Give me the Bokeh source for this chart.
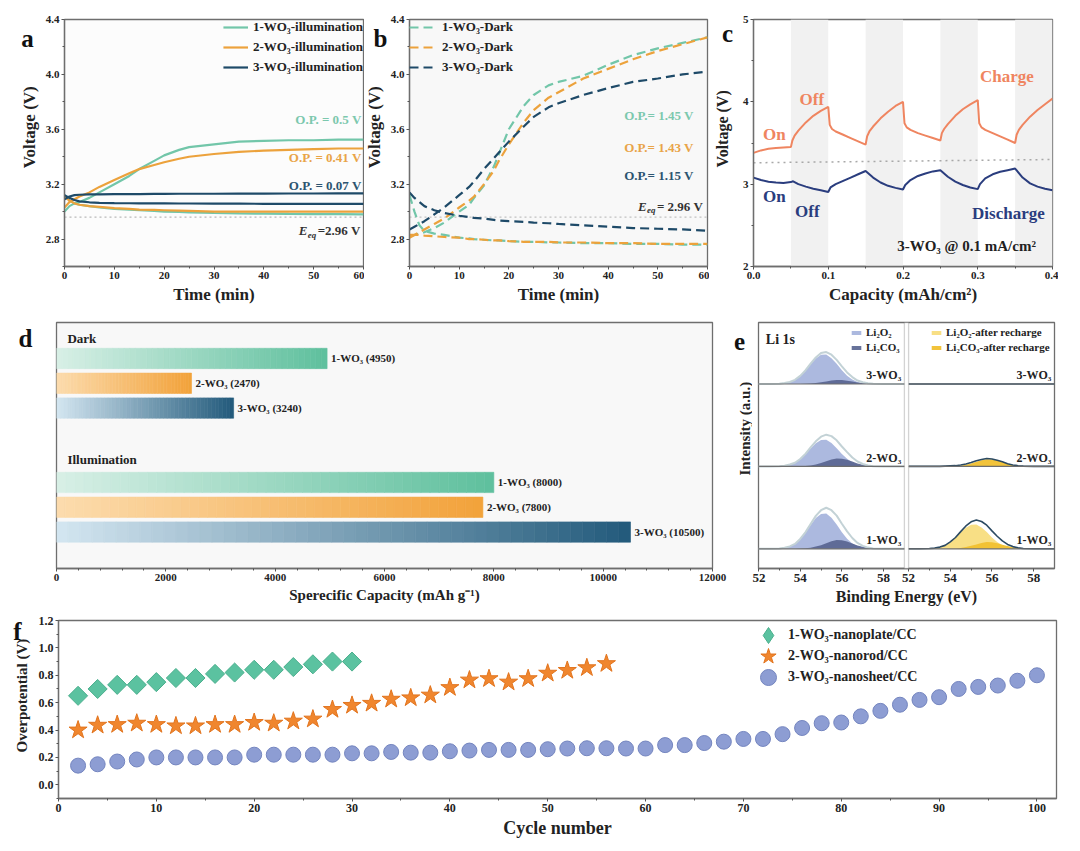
import numpy as np
from bokeh.plotting import figure
from bokeh.layouts import column, row
from bokeh.models import (Range1d, FixedTicker, Label, Legend, LegendItem,
                          BoxAnnotation, Span, PrintfTickFormatter, Spacer)
from bokeh.embed import file_html
from bokeh.resources import INLINE
from bokeh.core.properties import value

# ---------------- data ----------------
E_EQ = 2.96

# panel a : illumination
a_time = [0, 1, 2, 3, 5, 7, 10, 13, 15, 18, 20, 23, 25, 30, 35, 40, 45, 50, 55, 60]
a_names = ["1-WO₃-illumination", "2-WO₃-illumination", "3-WO₃-illumination"]
a_charge = [
    [3.00, 3.04, 3.06, 3.07, 3.10, 3.14, 3.20, 3.26, 3.31, 3.37, 3.41, 3.45, 3.47, 3.49, 3.51, 3.515, 3.52, 3.52, 3.525, 3.525],
    [3.03, 3.07, 3.09, 3.11, 3.14, 3.18, 3.23, 3.28, 3.31, 3.34, 3.36, 3.385, 3.40, 3.42, 3.435, 3.445, 3.45, 3.455, 3.46, 3.46],
    [3.09, 3.11, 3.12, 3.123, 3.125, 3.126, 3.127, 3.128, 3.128, 3.129, 3.129, 3.13, 3.13, 3.13, 3.131, 3.131, 3.132, 3.132, 3.133, 3.133],
]
a_discharge = [
    [3.12, 3.08, 3.06, 3.05, 3.04, 3.03, 3.02, 3.015, 3.01, 3.005, 3.0, 2.997, 2.995, 2.99, 2.987, 2.985, 2.983, 2.982, 2.981, 2.98],
    [3.11, 3.08, 3.06, 3.05, 3.04, 3.035, 3.025, 3.02, 3.015, 3.012, 3.01, 3.007, 3.005, 3.0, 3.0, 3.0, 3.0, 3.0, 3.0, 3.0],
    [3.12, 3.10, 3.085, 3.075, 3.068, 3.064, 3.062, 3.061, 3.06, 3.06, 3.06, 3.059, 3.059, 3.058, 3.058, 3.057, 3.057, 3.056, 3.056, 3.056],
]
a_op = ["O.P. = 0.5 V", "O.P. = 0.41 V", "O.P. = 0.07 V"]
a_op_y = [3.67, 3.395, 3.19]

# panel b : dark
b_time = [0, 1, 2, 3, 5, 7, 10, 12, 13, 15, 17, 18, 20, 23, 25, 28, 30, 35, 40, 45, 50, 55, 60]
b_names = ["1-WO₃-Dark", "2-WO₃-Dark", "3-WO₃-Dark"]
b_charge = [
    [2.82, 2.83, 2.84, 2.85, 2.88, 2.92, 3.00, 3.05, 3.10, 3.19, 3.33, 3.42, 3.60, 3.77, 3.85, 3.92, 3.945, 3.99, 4.07, 4.14, 4.19, 4.23, 4.27],
    [2.81, 2.83, 2.85, 2.87, 2.91, 2.95, 3.03, 3.08, 3.11, 3.20, 3.30, 3.37, 3.49, 3.65, 3.74, 3.83, 3.87, 3.97, 4.04, 4.11, 4.17, 4.22, 4.27],
    [2.87, 2.89, 2.91, 2.93, 2.98, 3.03, 3.12, 3.18, 3.22, 3.31, 3.39, 3.43, 3.51, 3.62, 3.69, 3.76, 3.79, 3.85, 3.90, 3.945, 3.97, 4.00, 4.02],
]
b_discharge = [
    [3.12, 3.00, 2.90, 2.86, 2.84, 2.83, 2.81, 2.805, 2.80, 2.795, 2.79, 2.79, 2.785, 2.78, 2.78, 2.775, 2.775, 2.77, 2.77, 2.765, 2.765, 2.76, 2.76],
    [2.83, 2.83, 2.83, 2.825, 2.82, 2.815, 2.81, 2.80, 2.80, 2.795, 2.79, 2.79, 2.785, 2.78, 2.78, 2.78, 2.775, 2.775, 2.77, 2.77, 2.765, 2.765, 2.765],
    [3.14, 3.10, 3.07, 3.04, 3.01, 2.99, 2.97, 2.96, 2.955, 2.95, 2.94, 2.935, 2.93, 2.925, 2.92, 2.915, 2.91, 2.90, 2.89, 2.88, 2.875, 2.87, 2.86],
]
b_op = ["O.P.= 1.45 V", "O.P.= 1.43 V", "O.P.= 1.15 V"]
b_op_y = [3.70, 3.47, 3.26]

# panel c : light on/off
c_off_start = [0.05, 0.15, 0.25, 0.35]
c_off_end = [0.10, 0.20, 0.30, 0.40]
c_charge_cap = [0, 0.01, 0.02, 0.03, 0.04, 0.05, 0.052, 0.055, 0.06, 0.07, 0.08, 0.09, 0.1, 0.102, 0.105, 0.11, 0.12, 0.13, 0.14, 0.15,
                0.152, 0.155, 0.16, 0.17, 0.18, 0.19, 0.2, 0.202, 0.205, 0.21, 0.22, 0.23, 0.24, 0.25,
                0.252, 0.255, 0.26, 0.27, 0.28, 0.29, 0.3, 0.302, 0.305, 0.31, 0.32, 0.33, 0.34, 0.35,
                0.352, 0.355, 0.36, 0.37, 0.38, 0.39, 0.4]
c_charge_v = [3.38, 3.41, 3.43, 3.44, 3.445, 3.45, 3.53, 3.59, 3.65, 3.75, 3.83, 3.89, 3.94, 3.72, 3.67, 3.64, 3.60, 3.56, 3.52, 3.48,
              3.58, 3.64, 3.70, 3.80, 3.88, 3.95, 4.00, 3.74, 3.69, 3.66, 3.62, 3.59, 3.56, 3.53,
              3.62, 3.67, 3.73, 3.83, 3.91, 3.97, 4.02, 3.74, 3.69, 3.66, 3.62, 3.58, 3.54, 3.50,
              3.60, 3.66, 3.72, 3.82, 3.90, 3.97, 4.04]
c_dis_cap = [0, 0.01, 0.02, 0.03, 0.04, 0.05, 0.053, 0.06, 0.07, 0.08, 0.09, 0.1, 0.103, 0.11, 0.12, 0.13, 0.14, 0.15,
             0.16, 0.17, 0.18, 0.19, 0.2, 0.203, 0.21, 0.22, 0.23, 0.24, 0.25, 0.26, 0.27, 0.28, 0.29, 0.3,
             0.303, 0.31, 0.32, 0.33, 0.34, 0.35, 0.36, 0.37, 0.38, 0.39, 0.4]
c_dis_v = [3.08, 3.05, 3.03, 3.02, 3.015, 3.025, 3.035, 3.0, 2.97, 2.945, 2.925, 2.905, 2.96, 3.0, 3.04, 3.08, 3.12, 3.16,
           3.08, 3.02, 2.98, 2.955, 2.935, 2.99, 3.05, 3.10, 3.13, 3.155, 3.17, 3.09, 3.03, 2.99, 2.96, 2.94,
           3.0, 3.07, 3.12, 3.15, 3.17, 3.19, 3.08, 3.01, 2.97, 2.945, 2.925]
c_ref_cap = [0.0, 0.4]
c_ref_v = [3.26, 3.30]

# panel d : specific capacity
d_labels_dark = ["1-WO₃ (4950)", "2-WO₃ (2470)", "3-WO₃ (3240)"]
d_dark = [4950, 2470, 3240]
d_labels_ill = ["1-WO₃ (8000)", "2-WO₃ (7800)", "3-WO₃ (10500)"]
d_ill = [8000, 7800, 10500]

# panel e : XPS Li 1s
be = [52.0, 52.5, 53.0, 53.25, 53.5, 53.75, 54.0, 54.25, 54.5, 54.75, 55.0, 55.25, 55.5, 55.75, 56.0, 56.25,
      56.5, 56.75, 57.0, 57.25, 57.5, 58.0, 58.5, 59.0]
e_samples = ["1-WO₃", "2-WO₃", "3-WO₃"]
e_li2o2 = [
    [0, 0, 0.01, 0.04, 0.10, 0.20, 0.39, 0.65, 0.97, 1.25, 1.42, 1.44, 1.26, 0.99, 0.67, 0.41, 0.22, 0.10, 0.04, 0.01, 0, 0, 0, 0],
    [0, 0, 0.01, 0.03, 0.08, 0.15, 0.29, 0.49, 0.73, 0.94, 1.07, 1.08, 0.95, 0.74, 0.50, 0.31, 0.16, 0.08, 0.03, 0.01, 0, 0, 0, 0],
    [0, 0, 0.01, 0.04, 0.08, 0.17, 0.33, 0.54, 0.81, 1.04, 1.19, 1.20, 1.05, 0.82, 0.56, 0.34, 0.18, 0.08, 0.04, 0.01, 0, 0, 0, 0],
]
e_li2co3 = [
    [0, 0, 0, 0, 0, 0, 0.01, 0.02, 0.04, 0.09, 0.15, 0.23, 0.31, 0.36, 0.35, 0.30, 0.22, 0.14, 0.08, 0.04, 0.01, 0, 0, 0],
    [0, 0, 0, 0, 0, 0, 0.01, 0.02, 0.04, 0.08, 0.14, 0.21, 0.28, 0.32, 0.31, 0.27, 0.20, 0.12, 0.07, 0.03, 0.01, 0, 0, 0],
    [0, 0, 0, 0, 0, 0, 0, 0.01, 0.02, 0.04, 0.07, 0.10, 0.14, 0.16, 0.16, 0.13, 0.10, 0.06, 0.03, 0.02, 0.01, 0, 0, 0],
]
e_li2o2_after = [
    [0, 0, 0.01, 0.03, 0.07, 0.14, 0.27, 0.45, 0.67, 0.86, 0.98, 0.99, 0.87, 0.68, 0.46, 0.28, 0.15, 0.07, 0.03, 0.01, 0, 0, 0, 0],
    [0, 0, 0, 0, 0, 0.01, 0.01, 0.02, 0.03, 0.03, 0.04, 0.04, 0.03, 0.03, 0.02, 0.01, 0.01, 0, 0, 0, 0, 0, 0, 0],
    [0] * 24,
]
e_li2co3_after = [
    [0, 0, 0, 0, 0, 0, 0.01, 0.01, 0.03, 0.07, 0.12, 0.18, 0.24, 0.28, 0.27, 0.23, 0.17, 0.11, 0.06, 0.03, 0.01, 0, 0, 0],
    [0, 0, 0, 0, 0, 0, 0.01, 0.01, 0.03, 0.07, 0.12, 0.19, 0.25, 0.29, 0.28, 0.24, 0.18, 0.11, 0.06, 0.03, 0.01, 0, 0, 0],
    [0] * 24,
]
e_offsets = [0.8, 4.15, 7.5]

# panel f : overpotential vs cycle
f_names = ["1-WO₃-nanoplate/CC", "2-WO₃-nanorod/CC", "3-WO₃-nanosheet/CC"]
f1_cycle = list(range(2, 31, 2))
f1_op = [0.65, 0.70, 0.73, 0.73, 0.75, 0.78, 0.78, 0.81, 0.82, 0.84, 0.84, 0.86, 0.88, 0.90, 0.90]
f2_cycle = list(range(2, 57, 2))
f2_op = [0.40, 0.435, 0.44, 0.45, 0.44, 0.43, 0.43, 0.44, 0.44, 0.455, 0.45, 0.465, 0.48, 0.55, 0.58, 0.595,
         0.625, 0.635, 0.655, 0.71, 0.765, 0.775, 0.75, 0.775, 0.815, 0.835, 0.855, 0.885]
f3_cycle = list(range(2, 101, 2))
f3_op = [0.14, 0.15, 0.17, 0.185, 0.20, 0.20, 0.20, 0.20, 0.20, 0.22, 0.22, 0.22, 0.22, 0.22, 0.23, 0.23, 0.24,
         0.235, 0.235, 0.245, 0.25, 0.255, 0.255, 0.255, 0.26, 0.265, 0.267, 0.267, 0.265, 0.265, 0.29, 0.29,
         0.305, 0.315, 0.335, 0.335, 0.37, 0.415, 0.45, 0.455, 0.50, 0.54, 0.585, 0.62, 0.64, 0.70, 0.715,
         0.725, 0.76, 0.80]

# ---------------- styling ----------------
SERIF = "Liberation Serif"
TEAL = "#72C6A9"
ORANGE = "#ECA23C"
NAVY = "#1E4A68"
LINE_COLORS = [TEAL, ORANGE, NAVY]
TEXT_COLORS = ["#7CC8AE", "#E9A448", "#2C5470"]
AXC = "#6E6E6E"


def make_fig(width, height, xr, yr, bl, br, bt, bb, bg="white"):
    p = figure(width=width, height=height, x_range=xr, y_range=yr,
               output_backend="svg", toolbar_location=None,
               min_border_left=bl, min_border_right=br, min_border_top=bt, min_border_bottom=bb,
               background_fill_color=bg, border_fill_color="white")
    p.grid.visible = False
    p.outline_line_color = AXC
    p.outline_line_width = 1.3
    for ax in p.axis:
        ax.axis_line_color = AXC
        ax.axis_line_width = 1.3
        ax.major_tick_line_color = "#555555"
        ax.minor_tick_line_color = "#555555"
        ax.major_tick_in = 0
        ax.major_tick_out = 3
        ax.minor_tick_in = 0
        ax.minor_tick_out = 2
        ax.major_label_text_font = SERIF
        ax.major_label_text_font_style = "bold"
        ax.major_label_text_font_size = "11px"
        ax.major_label_text_color = "#222222"
        ax.major_label_standoff = 2
        ax.axis_label_text_font = SERIF
        ax.axis_label_text_font_style = "bold"
        ax.axis_label_text_font_size = "17px"
        ax.axis_label_text_color = "#222222"
        ax.axis_label_standoff = 3
    return p


def strip(width, height):
    s = figure(width=width, height=height, x_range=Range1d(0, width), y_range=Range1d(height, 0),
               x_axis_type=None, y_axis_type=None, output_backend="svg", toolbar_location=None,
               min_border=0, outline_line_color=None, background_fill_color="white",
               border_fill_color="white")
    s.grid.visible = False
    return s


def strip_letter(s, ch, x, y):
    s.add_layout(Label(x=x, y=y, text=ch, text_font=SERIF, text_font_style="bold",
                       text_font_size="25px", text_align="center", text_baseline="middle",
                       text_color="#111111"))


def strip_ylabel(s, text, x, y, size="17px"):
    s.add_layout(Label(x=x, y=y, text=text, text_font=SERIF, text_font_style="bold",
                       text_font_size=size, text_align="center", text_baseline="middle",
                       angle=90, angle_units="deg", text_color="#222222"))


def txt(p, x, y, s, color="#222222", size="13px", align="left", style="bold", xo=0, yo=0):
    p.add_layout(Label(x=x, y=y, text=s, text_font=SERIF, text_font_style=style,
                       text_font_size=size, text_align=align, text_baseline="middle",
                       text_color=color, x_offset=xo, y_offset=yo))


def style_legend(leg, size="13px"):
    leg.label_text_font = SERIF
    leg.label_text_font_style = "bold"
    leg.label_text_font_size = size
    leg.label_text_color = "#222222"
    leg.background_fill_alpha = 0
    leg.border_line_color = None
    leg.margin = 0


def eeq(p, x, y, rest):
    txt(p, x, y, "E", color="#333333", size="13px", style="bold italic")
    txt(p, x, y, "eq", color="#333333", size="9px", style="bold italic", xo=9, yo=-4)
    txt(p, x, y, rest, color="#333333", size="13px", xo=19)


ROW1_H, ROW2_H, ROW3_H = 306, 301, 225

# ---------------- panel a ----------------
sa = strip(34, ROW1_H)
strip_letter(sa, "a", 19, 24)
strip_ylabel(sa, "Voltage (V)", 21, 133.5)

pa = make_fig(322, ROW1_H, Range1d(0, 60), Range1d(2.6, 4.4), 22, 1, 9, 48, bg="#FCFCFC")
pa.xaxis.ticker = FixedTicker(ticks=[0, 10, 20, 30, 40, 50, 60], minor_ticks=[5, 15, 25, 35, 45, 55])
pa.yaxis.ticker = FixedTicker(ticks=[2.8, 3.2, 3.6, 4.0, 4.4], minor_ticks=[2.6, 3.0, 3.4, 3.8, 4.2])
pa.yaxis.formatter = PrintfTickFormatter(format="%.1f")
pa.xaxis.axis_label = "Time (min)"
pa.add_layout(Span(location=E_EQ, dimension="width", line_color="#B8B8B8", line_dash="2 3",
                   line_width=1.3, level="underlay"))
items = []
for name, col, chg, dis in zip(a_names, LINE_COLORS, a_charge, a_discharge):
    r1 = pa.line(a_time, chg, line_color=col, line_width=2.2)
    pa.line(a_time, dis, line_color=col, line_width=2.2)
    items.append(LegendItem(label=name, renderers=[r1]))
leg = Legend(items=items, location="top_right", padding=6, spacing=4, glyph_width=25,
             glyph_height=14, label_height=14, label_standoff=5)
style_legend(leg)
pa.add_layout(leg)
for s_, yv, col in zip(a_op, a_op_y, TEXT_COLORS):
    txt(pa, 59.6, yv, s_, color=col, align="right")
eeq(pa, 47, 2.86, "=2.96 V")

# ---------------- panel b ----------------
sb = strip(23, ROW1_H)
strip_letter(sb, "b", 16, 24)
strip_ylabel(sb, "Voltage (V)", 10, 133.5)

pb = make_fig(322, ROW1_H, Range1d(0, 60), Range1d(2.6, 4.4), 21, 2, 9, 48, bg="#F8F8F8")
pb.xaxis.ticker = FixedTicker(ticks=[0, 10, 20, 30, 40, 50, 60], minor_ticks=[5, 15, 25, 35, 45, 55])
pb.yaxis.ticker = FixedTicker(ticks=[2.8, 3.2, 3.6, 4.0, 4.4], minor_ticks=[2.6, 3.0, 3.4, 3.8, 4.2])
pb.yaxis.formatter = PrintfTickFormatter(format="%.1f")
pb.xaxis.axis_label = "Time (min)"
pb.add_layout(Span(location=E_EQ, dimension="width", line_color="#C0C0C0", line_dash="2 3",
                   line_width=1.3, level="underlay"))
items = []
for name, col, chg, dis in zip(b_names, LINE_COLORS, b_charge, b_discharge):
    r1 = pb.line(b_time, chg, line_color=col, line_width=2.2, line_dash="9 5")
    pb.line(b_time, dis, line_color=col, line_width=2.2, line_dash="9 5")
    items.append(LegendItem(label=name, renderers=[r1]))
leg = Legend(items=items, location="top_left", padding=6, spacing=4, glyph_width=28,
             glyph_height=14, label_height=14, label_standoff=5)
style_legend(leg)
pb.add_layout(leg)
for s_, yv, col in zip(b_op, b_op_y, TEXT_COLORS):
    txt(pb, 57.2, yv, s_, color=col, align="right")
eeq(pb, 46, 3.04, "= 2.96 V")

# ---------------- panel c ----------------
C_OR = "#EF8560"
C_NV = "#2A3D7E"
sc = strip(26, ROW1_H)
strip_letter(sc, "c", 18, 17)
strip_ylabel(sc, "Voltage (V)", 13, 135.5, size="16px")

pc = make_fig(323, ROW1_H, Range1d(0, 0.4), Range1d(2, 5), 18, 6, 11, 46)
pc.xaxis.ticker = FixedTicker(ticks=[0, 0.1, 0.2, 0.3, 0.4], minor_ticks=[0.05, 0.15, 0.25, 0.35])
pc.xaxis.formatter = PrintfTickFormatter(format="%.1f")
pc.yaxis.ticker = FixedTicker(ticks=[2, 3, 4, 5], minor_ticks=[2.5, 3.5, 4.5])
pc.xaxis.axis_label = "Capacity (mAh/cm²)"
for s_, e_ in zip(c_off_start, c_off_end):
    pc.add_layout(BoxAnnotation(left=s_, right=e_, fill_color="#F1F1F1", fill_alpha=1.0,
                                line_color=None, level="underlay"))
pc.line(c_ref_cap, c_ref_v, line_color="#A8A8A8", line_dash="2 4", line_width=1.5)
pc.line(c_charge_cap, c_charge_v, line_color=C_OR, line_width=2)
pc.line(c_dis_cap, c_dis_v, line_color=C_NV, line_width=2)
txt(pc, 0.339, 4.31, "Charge", color=C_OR, size="17px", align="center")
txt(pc, 0.078, 4.03, "Off", color=C_OR, size="17px", align="center")
txt(pc, 0.028, 3.60, "On", color=C_OR, size="17px", align="center")
txt(pc, 0.028, 2.85, "On", color=C_NV, size="17px", align="center")
txt(pc, 0.072, 2.67, "Off", color=C_NV, size="17px", align="center")
txt(pc, 0.341, 2.64, "Discharge", color=C_NV, size="17px", align="center")
txt(pc, 0.285, 2.25, "3-WO₃ @ 0.1 mA/cm²", color="#222222", size="15px", align="center")

# ---------------- panel d ----------------
sd = strip(32, ROW2_H)
strip_letter(sd, "d", 17, 19)

pdd = make_fig(688, ROW2_H, Range1d(0, 12000), Range1d(9.47, -0.45), 16, 16, 8, 40, bg="#F8F8F8")
pdd.yaxis.visible = False
pdd.xaxis.ticker = FixedTicker(ticks=list(range(0, 12001, 2000)), minor_ticks=list(range(400, 12000, 400)))
pdd.xaxis.axis_label = "Sperecific Capacity (mAh g⁻¹)"
pdd.xaxis.axis_label_text_font_size = "15px"

GRAD = [("#D8F0E6", "#5EBF9D"), ("#FCDCAE", "#F2A23A"), ("#D4E6F1", "#225A7B")]
dark_rows = [1, 2, 3]
ill_rows = [6, 7, 8]
NSEG = 48


def hexrgb(h):
    return np.array([int(h[i:i + 2], 16) for i in (1, 3, 5)], dtype=float)


def grad_bar(p, v, rowpos, c1, c2):
    a, b = hexrgb(c1), hexrgb(c2)
    edges = np.linspace(0, v, NSEG + 1)
    cols = []
    for i in range(NSEG):
        t = (i + 0.5) / NSEG
        c = a + (b - a) * t
        cols.append("#%02x%02x%02x" % tuple(int(round(x)) for x in c))
    p.hbar(y=[rowpos] * NSEG, left=edges[:-1], right=edges[1:], height=0.82,
           fill_color=cols, line_color=cols, line_width=0.6)


for vals, rows_, labs in ((d_dark, dark_rows, d_labels_dark), (d_ill, ill_rows, d_labels_ill)):
    for v, r, (c1, c2) in zip(vals, rows_, GRAD):
        grad_bar(pdd, v, r, c1, c2)
    pdd.text(x=vals, y=rows_, text=labs, x_offset=4, text_font=value(SERIF), text_font_style="bold",
             text_font_size="11px", text_baseline="middle", text_color="#222222")
txt(pdd, 200, 0.18, "Dark", size="13px")
txt(pdd, 200, 5.08, "Illumination", size="13px")

# ---------------- panel e ----------------
se = strip(24, ROW2_H)
strip_letter(se, "e", 11, 23)
strip_ylabel(se, "Intensity (a.u.)", 16, 130, size="15px")

RIGHT_SHIFT = 7.2
pe = make_fig(306, ROW2_H, Range1d(0, 14.2), Range1d(0, 10), 6, 4, 6, 47)
ticks_l = [b - 52 for b in (52, 54, 56, 58)]
ticks_r = [b - 52 + RIGHT_SHIFT for b in (52, 54, 56, 58)]
minor_e = [b - 52 for b in (53, 55, 57)] + [b - 52 + RIGHT_SHIFT for b in (53, 55, 57)]
pe.xaxis.ticker = FixedTicker(ticks=ticks_l + ticks_r, minor_ticks=minor_e)
pe.xaxis.major_label_overrides = {t: lab for t, lab in zip(ticks_l + ticks_r, ["52", "54", "56", "58"] * 2)}
pe.xaxis.major_label_text_font_size = "13px"
pe.yaxis.visible = False
pe.xaxis.axis_label = "Binding Energy (eV)"
pe.xaxis.axis_label_text_font_size = "16px"

xl = [b - 52 for b in be]
xr_ = [b - 52 + RIGHT_SHIFT for b in be]
O2C, CO3C = "#A8B5DD", "#56638F"
O2A, CO3A = "#F7DB78", "#F1C02F"
leg_l, leg_r = [], []
for k, off in enumerate(e_offsets):
    o2 = [off + v for v in e_li2o2[k]]
    co = [off + v for v in e_li2co3[k]]
    env = [off + u + v for u, v in zip(e_li2o2[k], e_li2co3[k])]
    r1 = pe.varea(x=xl, y1=[off] * len(be), y2=o2, fill_color=O2C, fill_alpha=0.95)
    r2 = pe.varea(x=xl, y1=[off] * len(be), y2=co, fill_color=CO3C, fill_alpha=0.9)
    pe.line(xl, env, line_color="#C3D2D6", line_width=2)
    o2a = [off + v for v in e_li2o2_after[k]]
    coa = [off + v for v in e_li2co3_after[k]]
    enva = [off + u + v for u, v in zip(e_li2o2_after[k], e_li2co3_after[k])]
    r3 = pe.varea(x=xr_, y1=[off] * len(be), y2=o2a, fill_color=O2A, fill_alpha=0.9)
    r4 = pe.varea(x=xr_, y1=[off] * len(be), y2=coa, fill_color=CO3A, fill_alpha=0.95)
    pe.line(xr_, enva, line_color="#2C4A62", line_width=1.6)
    if k == 0:
        leg_l = [LegendItem(label="Li₂O₂", renderers=[r1]), LegendItem(label="Li₂CO₃", renderers=[r2])]
        leg_r = [LegendItem(label="Li₂O₂-after recharge", renderers=[r3]),
                 LegendItem(label="Li₂CO₃-after recharge", renderers=[r4])]
    pe.add_layout(Span(location=off, dimension="width", line_color=AXC, line_width=1.2))
    txt(pe, 6.85, off + 0.36, e_samples[k], size="12px", align="right")
    txt(pe, 14.05, off + 0.36, e_samples[k], size="12px", align="right")
pe.add_layout(BoxAnnotation(left=7.0, right=RIGHT_SHIFT, fill_color="white", fill_alpha=1,
                            line_color=AXC, line_width=1.3))
for items_, loc in ((leg_l, (92, 214)), (leg_r, (172, 214))):
    lg = Legend(items=items_, location=loc, padding=0, spacing=1, glyph_width=12, glyph_height=5,
                label_height=14, label_standoff=4)
    style_legend(lg, size="11px")
    pe.add_layout(lg)
txt(pe, 0.35, 9.3, "Li 1s", size="14px")

# ---------------- panel f ----------------
sf = strip(26, ROW3_H)
strip_letter(sf, "f", 9, 14)
strip_ylabel(sf, "Overpotential (V)", 13, 95, size="15px")

pf = make_fig(1024, ROW3_H, Range1d(0, 102), Range1d(-0.1, 1.2), 24, 2, 5, 40)
pf.xaxis.ticker = FixedTicker(ticks=list(range(0, 101, 10)), minor_ticks=list(range(5, 101, 10)))
pf.yaxis.ticker = FixedTicker(ticks=[0.0, 0.2, 0.4, 0.6, 0.8, 1.0, 1.2],
                              minor_ticks=[-0.1, 0.1, 0.3, 0.5, 0.7, 0.9, 1.1])
pf.yaxis.formatter = PrintfTickFormatter(format="%.1f")
pf.xaxis.major_label_text_font_size = "12px"
pf.yaxis.major_label_text_font_size = "12px"
pf.xaxis.axis_label = "Cycle number"
pf.xaxis.axis_label_text_font_size = "18px"
DIA_FILL, DIA_LINE = "#5BC2A0", "#4BAF8D"
# diamond used by the legend (sits hidden beneath the rotated squares)
r1 = pf.scatter(f1_cycle, f1_op, marker="diamond", size=16, fill_color=DIA_FILL, line_color=DIA_LINE)
pf.scatter(f1_cycle, f1_op, marker="square", angle=np.pi / 4, size=13.5,
           fill_color=DIA_FILL, line_color=DIA_LINE)
r2 = pf.scatter(f2_cycle, f2_op, marker="star", size=19, fill_color="#F0862E", line_color="#E2741E")
r3 = pf.scatter(f3_cycle, f3_op, marker="circle", size=15, fill_color="#8D9DD3", line_color="#7485BF")
for n, r, vy in zip(f_names, (r1, r2, r3), (143, 122, 101)):
    lg = Legend(items=[LegendItem(label=n, renderers=[r])], location=(690, vy), padding=0,
                glyph_width=40, glyph_height=40, label_standoff=0)
    style_legend(lg, size="14px")
    pf.add_layout(lg)

content = column(row(sa, pa, sb, pb, sc, pc), row(sd, pdd, se, pe), row(sf, pf))
layout = row(Spacer(width=8, height=10), column(Spacer(width=10, height=8), content))
open("out.html", "w").write(file_html(layout, INLINE, title="WO3 figure"))
